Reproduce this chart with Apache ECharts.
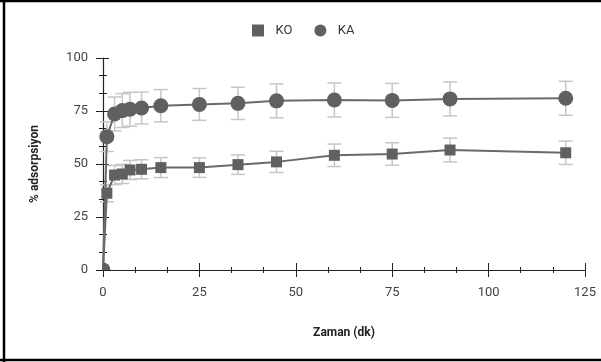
<!DOCTYPE html>
<html><head><meta charset="utf-8">
<script src="https://cdn.jsdelivr.net/npm/echarts@6/dist/echarts.min.js"></script>
<style>html,body{margin:0;padding:0;background:#fff}#c{width:601px;height:362px}</style>
</head><body><div id="c"></div>
<script>
const times = [0, 1, 3, 5, 7, 10, 15, 25, 35, 45, 60, 75, 90, 120];
const koValues = [0, 36.2, 44.8, 45.3, 47.2, 47.5, 48.3, 48.3, 49.7, 51.0, 54.1, 54.7, 56.6, 55.3];
const koErrors = [0, 4, 4.5, 4.5, 4.5, 4.5, 4.7, 4.6, 4.6, 5, 5.3, 5.3, 5.6, 5.5];
const kaValues = [0, 62.9, 73.6, 75.2, 75.8, 76.4, 77.5, 78.1, 78.6, 79.8, 80.2, 80.0, 80.7, 81.0];
const kaErrors = [0, 7, 8, 8, 8, 7.5, 7.6, 7.5, 7.6, 8, 8, 8, 8, 8];
const xTicks = [0, 25, 50, 75, 100, 125];
const yTicks = [0, 25, 50, 75, 100];

const chart = echarts.init(document.getElementById('c'), null, {renderer: 'canvas'});
const FONT = 'Roboto';
const errColor = '#c6c6c6';
const markColor = '#606060';

function errSeries(vals, errs) {
  return {
    type: 'custom',
    xAxisIndex: 0, yAxisIndex: 0,
    silent: true, z: 1,
    data: times.map((t, i) => [t, vals[i] - errs[i], vals[i] + errs[i]]).filter((d, i) => errs[i] > 0),
    renderItem: function (params, api) {
      const lo = api.coord([api.value(0), api.value(1)]);
      const hi = api.coord([api.value(0), api.value(2)]);
      const w = 7;
      const st = {stroke: errColor, lineWidth: 1.5};
      return {type: 'group', children: [
        {type: 'line', shape: {x1: hi[0], y1: hi[1], x2: lo[0], y2: lo[1]}, style: st},
        {type: 'line', shape: {x1: hi[0] - w, y1: hi[1], x2: hi[0] + w, y2: hi[1]}, style: st},
        {type: 'line', shape: {x1: lo[0] - w, y1: lo[1], x2: lo[0] + w, y2: lo[1]}, style: st}
      ]};
    }
  };
}

// points sitting on the axes corner are clipped by the plot area (only a quarter shows)
function cornerSeries(vals, shape, size) {
  return {
    type: 'custom', xAxisIndex: 0, yAxisIndex: 0, silent: true, z: 4,
    data: times.map((t, i) => [t, vals[i]]).filter(d => d[0] === 0 && d[1] === 0),
    renderItem: function (params, api) {
      const p = api.coord([api.value(0), api.value(1)]);
      const r = size / 2;
      if (shape === 'circle') {
        return {type: 'sector', shape: {cx: p[0], cy: p[1], r0: 0, r: r, startAngle: -Math.PI / 2, endAngle: 0},
          style: {fill: markColor}};
      }
      return {type: 'rect', shape: {x: p[0], y: p[1] - r, width: r, height: r}, style: {fill: markColor}};
    }
  };
}

function lineData(vals) {
  return times.map((t, i) => {
    const d = {value: [t, vals[i]]};
    if (t === 0 && vals[i] === 0) d.symbol = 'none';
    return d;
  });
}

const axisBase = {
  min: 0, interval: 25,
  axisLine: {show: true, lineStyle: {color: '#222', width: 1.2}},
  splitLine: {show: false},
  axisLabel: {color: '#444', fontFamily: FONT, fontSize: 13},
};

chart.setOption({
  animation: false,
  backgroundColor: '#fff',
  textStyle: {fontFamily: FONT},
  legend: {
    top: 19, left: 247, itemGap: 22, itemWidth: 12, itemHeight: 12,
    formatter: function (name) { return '  ' + name; },
    textStyle: {color: '#333', fontSize: 13, fontFamily: FONT},
    data: [{name: 'KO', icon: 'rect'}, {name: 'KA', icon: 'circle'}]
  },
  grid: {left: 103, right: 16, top: 58, bottom: 92},
  xAxis: [
    Object.assign({}, axisBase, {
      type: 'value', max: 125,
      name: 'Zaman (dk)', nameLocation: 'middle', nameGap: 57,
      nameTextStyle: {color: '#222', fontWeight: 'bold', fontSize: 12, fontFamily: FONT},
      axisTick: {show: true, inside: false, length: 7, lineStyle: {color: '#222'}},
      minorTick: {show: true, splitNumber: 3, length: 3, lineStyle: {color: '#222'}},
      axisLabel: {color: '#444', fontFamily: FONT, fontSize: 13, margin: 16}
    }),
    {
      type: 'value', min: 0, max: 125, interval: 25, position: 'bottom', offset: 0,
      axisLine: {show: false}, axisLabel: {show: false}, splitLine: {show: false},
      axisTick: {show: true, inside: true, length: 7, lineStyle: {color: '#222'}},
      minorTick: {show: true, splitNumber: 3, length: 3, lineStyle: {color: '#222'}}
    }
  ],
  yAxis: [
    Object.assign({}, axisBase, {
      type: 'value', max: 100,
      name: '% adsorpsiyon', nameLocation: 'middle', nameGap: 62, nameRotate: 90,
      nameTextStyle: {color: '#222', fontWeight: 'bold', fontSize: 12, fontFamily: FONT},
      axisTick: {show: true, inside: false, length: 7, lineStyle: {color: '#222'}},
      minorTick: {show: true, splitNumber: 3, length: 4, lineStyle: {color: '#222'}},
      axisLabel: {color: '#444', fontFamily: FONT, fontSize: 13, margin: 15}
    }),
    {
      type: 'value', min: 0, max: 100, interval: 25, position: 'left', offset: 0,
      axisLine: {show: false}, axisLabel: {show: false}, splitLine: {show: false},
      axisTick: {show: true, inside: true, length: 6, lineStyle: {color: '#222'}},
      minorTick: {show: true, splitNumber: 3, length: 4, lineStyle: {color: '#222'}}
    }
  ],
  graphic: [
    {type: 'line', shape: {x1: 4, y1: 0, x2: 4, y2: 362}, style: {stroke: '#000', lineWidth: 2.5}},
    {type: 'line', shape: {x1: 0, y1: 1, x2: 601, y2: 1}, style: {stroke: '#000', lineWidth: 2.5}},
    {type: 'line', shape: {x1: 0, y1: 360, x2: 601, y2: 360}, style: {stroke: '#000', lineWidth: 2.5}}
  ],
  series: [
    errSeries(koValues, koErrors),
    errSeries(kaValues, kaErrors),
    {
      name: 'KO', type: 'line', xAxisIndex: 0, yAxisIndex: 0, z: 3,
      data: lineData(koValues),
      symbol: 'rect', symbolSize: 11,
      itemStyle: {color: markColor},
      lineStyle: {color: '#6a6a6a', width: 2}
    },
    {
      name: 'KA', type: 'line', xAxisIndex: 0, yAxisIndex: 0, z: 3,
      data: lineData(kaValues),
      symbol: 'circle', symbolSize: 15,
      itemStyle: {color: markColor},
      lineStyle: {color: '#6a6a6a', width: 2}
    },
    cornerSeries(koValues, 'rect', 11),
    cornerSeries(kaValues, 'circle', 15)
  ]
});
</script></body></html>
